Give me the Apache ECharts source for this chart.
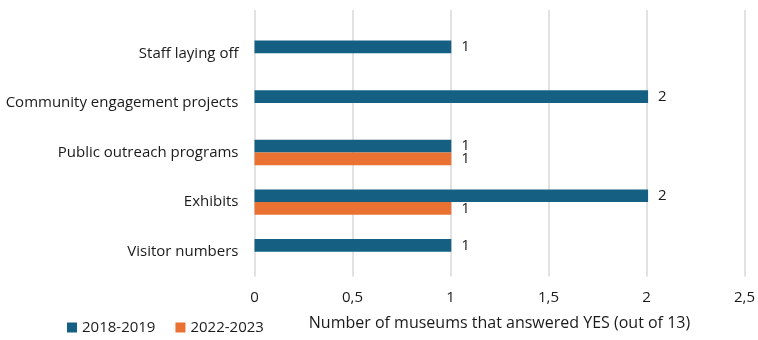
<!DOCTYPE html>
<html>
<head>
<meta charset="utf-8">
<script src="https://cdn.jsdelivr.net/npm/echarts@6/dist/echarts.min.js"></script>
<style>
  html, body { margin: 0; padding: 0; background: #ffffff; }
  #chart { width: 758px; height: 340px; }
</style>
</head>
<body>
<div id="chart"></div>
<script>
// Survey answers, listed top to bottom
const categories = [
  'Staff laying off',
  'Community engagement projects',
  'Public outreach programs',
  'Exhibits',
  'Visitor numbers'
];
const period2018 = [1, 2, 1, 2, 1];
const period2022 = [null, null, 1, 1, null];
const seriesNames = ['2018-2019', '2022-2023'];
const xTicks = [0, 0.5, 1, 1.5, 2, 2.5];

const FONT = '"Open Sans", "Liberation Sans", sans-serif';
const TEXT = '#1a1a1a';
const BLUE = '#156082';
const ORANGE = '#E97132';

const chart = echarts.init(document.getElementById('chart'), null, { renderer: 'canvas' });

const fmtTick = v => String(v).replace('.', ',');

chart.setOption({
  animation: false,
  textStyle: { fontFamily: FONT },
  legend: {
    data: seriesNames,
    left: 62,
    top: 315,
    itemWidth: 10,
    itemHeight: 10,
    itemGap: 20,
    icon: 'rect',
    textStyle: { fontSize: 15, color: TEXT, fontFamily: FONT }
  },
  grid: [
    // bars
    { left: 254.5, right: 11.5, top: 28.5, height: 248, containLabel: false },
    // vertical gridlines and tick labels
    { left: 254.5, right: 11.5, top: 10, height: 266.5, containLabel: false }
  ],
  xAxis: [
    {
      gridIndex: 0, type: 'value', min: 0, max: 2.5, interval: 0.5,
      axisLine: { show: false }, axisTick: { show: false },
      axisLabel: { show: false }, splitLine: { show: false }
    },
    {
      gridIndex: 1, type: 'value', min: 0, max: 2.5, interval: 0.5,
      axisLine: { show: false }, axisTick: { show: false },
      axisLabel: {
        fontSize: 15, color: TEXT, margin: 14, fontFamily: FONT,
        formatter: v => fmtTick(xTicks.find(t => Math.abs(t - v) < 1e-9) ?? v)
      },
      splitLine: { show: true, lineStyle: { color: '#D9D9D9', width: 1.5 } },
      name: 'Number of museums that answered YES (out of 13)',
      nameLocation: 'middle',
      nameGap: 39,
      nameTextStyle: { fontSize: 16, color: TEXT, fontFamily: FONT }
    }
  ],
  yAxis: [
    {
      gridIndex: 0, type: 'category', data: categories, inverse: true,
      axisLine: { show: false }, axisTick: { show: false },
      axisLabel: { fontSize: 15, color: TEXT, margin: 16, fontFamily: FONT }
    },
    {
      gridIndex: 1, type: 'category', data: categories, inverse: true, show: false
    }
  ],
  series: [
    {
      name: seriesNames[0], type: 'bar', xAxisIndex: 0, yAxisIndex: 0,
      data: period2018, barWidth: 12.7, barGap: '0%',
      itemStyle: { color: BLUE },
      label: { show: true, position: 'right', distance: 10, fontSize: 15, color: TEXT, fontFamily: FONT }
    },
    {
      name: seriesNames[1], type: 'bar', xAxisIndex: 0, yAxisIndex: 0,
      data: period2022, barWidth: 12.7, barGap: '0%',
      itemStyle: { color: ORANGE },
      label: { show: true, position: 'right', distance: 10, fontSize: 15, color: TEXT, fontFamily: FONT }
    }
  ]
});
</script>
</body>
</html>
